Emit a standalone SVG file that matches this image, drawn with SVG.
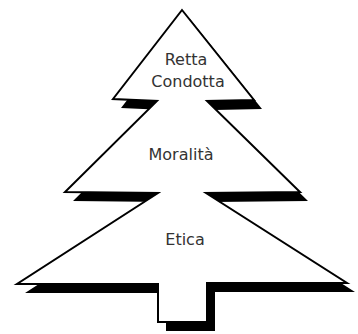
<svg xmlns="http://www.w3.org/2000/svg" width="358" height="334" viewBox="0 0 358 334">
<defs>
<style>
.lbl{font-family:"DejaVu Sans","Liberation Sans",sans-serif;font-size:16px;fill:#333;text-anchor:middle}
</style>
<path id="tree" d="M182,10 L254,100 L207,101 L300,192 L206,193 L347,283 L207,283 L207,322 L158,322 L158,284 L17,284 L158,193 L65,192 L157,101 L113,99 Z"/>
</defs>
<rect width="358" height="334" fill="#fff"/>
<g id="shadow"><use href="#tree" transform="translate(8,9)" fill="#000"/></g>
<g id="outline"><use href="#tree" fill="#fff" stroke="#000" stroke-width="2" stroke-linejoin="miter"/></g>
<g id="retta-condotta"><text class="lbl" x="186" y="65">Retta</text><text class="lbl" x="188" y="87">Condotta</text></g>
<g id="moralita"><text class="lbl" x="181" y="160">Moralità</text></g>
<g id="etica"><text class="lbl" x="185" y="245">Etica</text></g>
</svg>
